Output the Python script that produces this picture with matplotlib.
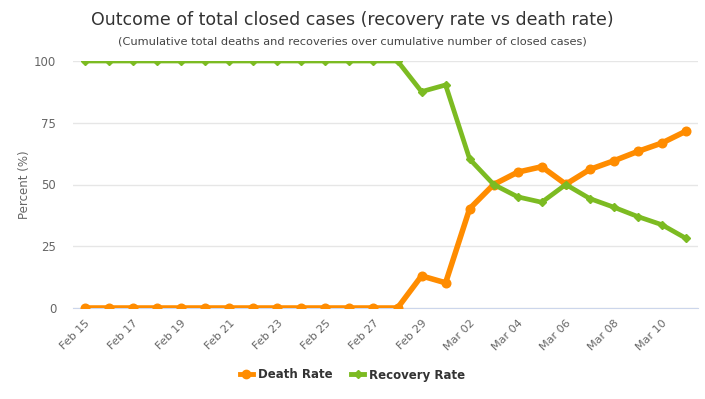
import matplotlib.pyplot as plt
from matplotlib.lines import Line2D

ORANGE = "#FF8C00"
GREEN = "#7CBB22"
GRAY_TEXT = "#666666"

dates = [
    "Feb 15", "Feb 16", "Feb 17", "Feb 18", "Feb 19", "Feb 20", "Feb 21",
    "Feb 22", "Feb 23", "Feb 24", "Feb 25", "Feb 26", "Feb 27", "Feb 28",
    "Feb 29", "Mar 01", "Mar 02", "Mar 03", "Mar 04", "Mar 05", "Mar 06",
    "Mar 07", "Mar 08", "Mar 09", "Mar 10", "Mar 11",
]
death_rate = [
    0, 0, 0, 0, 0, 0, 0, 0, 0, 0, 0, 0, 0, 0,
    13.0, 10.2, 40.2, 50.0, 55.0, 57.2, 50.1, 56.1, 59.6, 63.4, 66.8, 71.6,
]
recovery_rate = [
    100, 100, 100, 100, 100, 100, 100, 100, 100, 100, 100, 100, 100, 100,
    87.6, 90.3, 60.3, 50.0, 45.0, 42.8, 50.0, 44.3, 40.8, 37.0, 33.7, 28.2,
]
y_ticks = [0, 25, 50, 75, 100]

fig = plt.figure(figsize=(7.05, 3.99), dpi=100)
ax = fig.add_axes([73 / 705, 1 - 308 / 399, 625 / 705, 247 / 399])

x = list(range(len(dates)))
ax.plot(x, death_rate, color=ORANGE, linewidth=4.0, marker="o",
        markersize=6.2, solid_joinstyle="round", zorder=3)
ax.plot(x, recovery_rate, color=GREEN, linewidth=3.4, marker="D",
        markersize=4.3, solid_joinstyle="round", zorder=4)

ax.set_xlim(-0.5, len(dates) - 0.5)
ax.set_ylim(0, 100)
ax.set_yticks(y_ticks)
ax.set_xticks(x[::2])
ax.set_xticklabels(dates[::2], rotation=45, ha="right", rotation_mode="anchor")
ax.tick_params(axis="x", length=0, pad=7, labelsize=8, colors=GRAY_TEXT)
ax.tick_params(axis="y", length=0, pad=12, labelsize=8.5, colors=GRAY_TEXT)

ax.grid(axis="y", color="#e6e6e6", linewidth=1)
ax.set_axisbelow(True)
for side in ["top", "right", "left"]:
    ax.spines[side].set_visible(False)
ax.spines["bottom"].set_color("#ccd6eb")
ax.spines["bottom"].set_zorder(1)

ax.set_ylabel("Percent (%)", color=GRAY_TEXT, fontsize=8.5, labelpad=2)

fig.text(0.5, 1 - 20 / 399, "Outcome of total closed cases (recovery rate vs death rate)",
         ha="center", va="center", fontsize=12.5, color="#333333")
fig.text(0.5, 1 - 42 / 399,
         "(Cumulative total deaths and recoveries over cumulative number of closed cases)",
         ha="center", va="center", fontsize=8.2, color="#444444")

handles = [
    Line2D([], [], color=ORANGE, linewidth=3.5, marker="o", markersize=6),
    Line2D([], [], color=GREEN, linewidth=3.5, marker="D", markersize=4.5),
]
leg = fig.legend(handles, ["Death Rate", "Recovery Rate"], loc="center",
                 bbox_to_anchor=(0.5, 1 - 375 / 399), ncol=2, frameon=False,
                 handlelength=1.1, handletextpad=0.4, columnspacing=1.6,
                 prop={"weight": "bold", "size": 8.5})
for t in leg.get_texts():
    t.set_color("#333333")

fig.savefig("out.png", dpi=100)
